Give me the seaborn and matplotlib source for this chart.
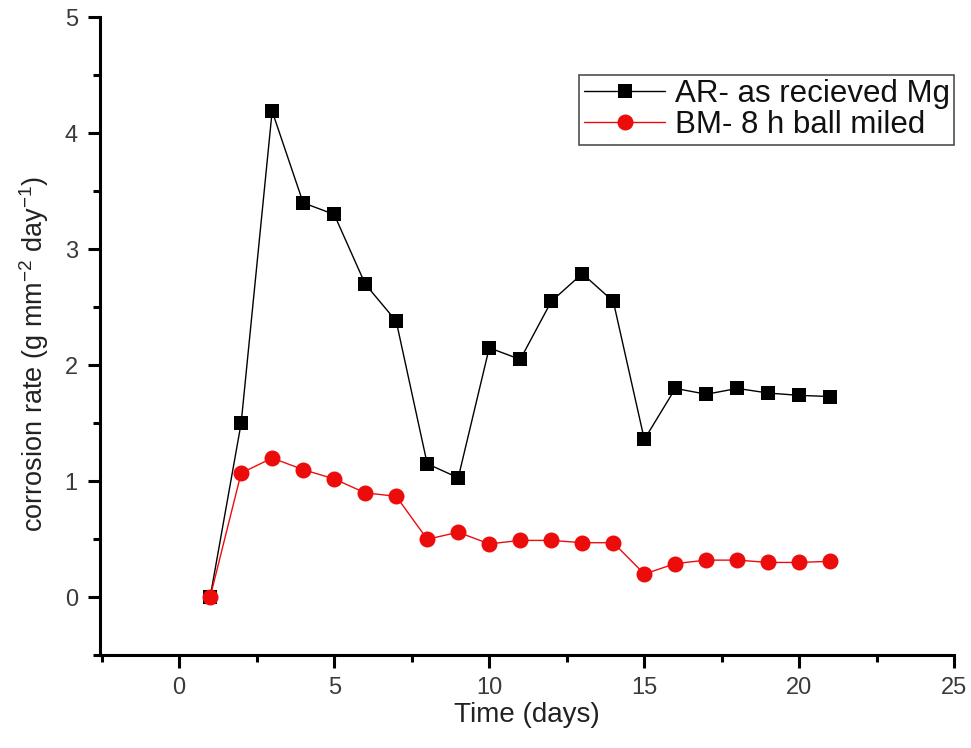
import numpy as np
import pandas as pd
import matplotlib
matplotlib.use("Agg")
import matplotlib.pyplot as plt
import seaborn as sns
from matplotlib.ticker import MultipleLocator

days = list(range(1, 22))
ar_rate = [0.0, 1.50, 4.19, 3.40, 3.30, 2.70, 2.38, 1.15, 1.03, 2.15, 2.05,
           2.55, 2.79, 2.55, 1.36, 1.80, 1.75, 1.80, 1.76, 1.74, 1.73]
bm_rate = [0.0, 1.07, 1.20, 1.10, 1.02, 0.90, 0.87, 0.50, 0.56, 0.46, 0.49,
           0.49, 0.47, 0.47, 0.20, 0.29, 0.32, 0.32, 0.30, 0.30, 0.31]
series_names = ["AR- as recieved Mg", "BM- 8 h ball miled"]

sns.set_theme(style="ticks")
plt.rcParams['font.family'] = ['Liberation Sans', 'DejaVu Sans']
plt.rcParams['mathtext.default'] = 'regular'

df = pd.DataFrame({
    "day": days * 2,
    "rate": ar_rate + bm_rate,
    "series": [series_names[0]] * len(days) + [series_names[1]] * len(days),
})

fig = plt.figure(figsize=(9.71, 7.48), dpi=100)
ax = fig.add_axes([0.103, 0.124, 0.880, 0.853])

sns.lineplot(data=df, x="day", y="rate", hue="series", style="series",
             markers={series_names[0]: "s", series_names[1]: "o"},
             dashes=False,
             palette={series_names[0]: "black", series_names[1]: "#ec0c0c"},
             linewidth=1.0, ax=ax, legend=True)

for line in ax.get_lines():
    if line.get_marker() == "s":
        line.set_markersize(10)
        line.set_markeredgewidth(0)
    elif line.get_marker() == "o":
        line.set_markersize(11.5)
        line.set_markeredgewidth(0)

ax.set_xlim(-2.55, 25)
ax.set_ylim(-0.5, 5)
ax.xaxis.set_major_locator(MultipleLocator(5))
ax.xaxis.set_minor_locator(MultipleLocator(2.5))
ax.yaxis.set_major_locator(MultipleLocator(1))
ax.yaxis.set_minor_locator(MultipleLocator(0.5))

for s in ["top", "right"]:
    ax.spines[s].set_visible(False)
for s in ["left", "bottom"]:
    ax.spines[s].set_linewidth(2.2)
    ax.spines[s].set_color("black")

ax.tick_params(axis="both", which="major", direction="out", length=9, width=2.2,
               labelsize=17, labelcolor="#3a3a3a", color="black", pad=7)
ax.tick_params(axis="both", which="minor", direction="out", length=5, width=2.2,
               color="black")

ax.set_xlabel("Time (days)", fontsize=20, color="#222222", labelpad=2)
ax.set_ylabel("corrosion rate (g mm$^{-2}$ day$^{-1}$)", fontsize=19.5,
              color="#222222")
ax.yaxis.set_label_coords(-0.057, 0.472)

handles, labels = ax.get_legend_handles_labels()
for h in handles:
    if h.get_marker() == "s":
        h.set_markersize(10)
    elif h.get_marker() == "o":
        h.set_markersize(11.5)
    h.set_markeredgewidth(0)
leg = ax.legend(handles, labels, loc="upper right", bbox_to_anchor=(1.0, 0.91),
                fontsize=22.5, frameon=True, fancybox=False, edgecolor="#222222",
                handlelength=2.6, handletextpad=0.3, borderpad=0.15,
                labelspacing=0.02, borderaxespad=0.0)
leg.get_frame().set_linewidth(1.2)
for t in leg.get_texts():
    t.set_color("#111111")

fig.savefig("out.png", dpi=100)
